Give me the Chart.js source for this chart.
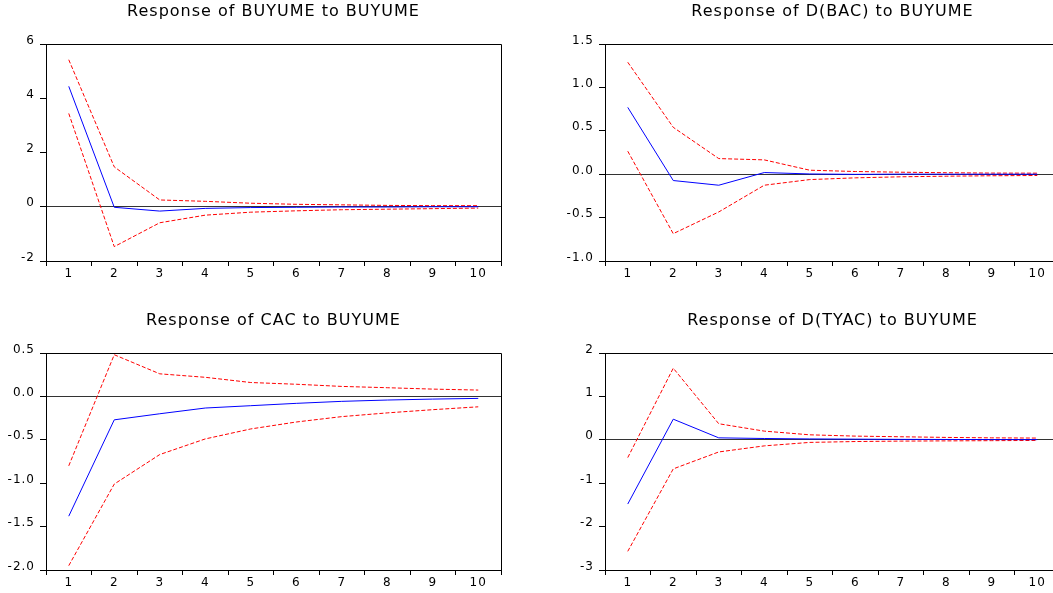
<!DOCTYPE html>
<html><head><meta charset="utf-8">
<script src="https://cdn.jsdelivr.net/npm/chart.js@4.4.0/dist/chart.umd.min.js"></script>
<style>
html,body{margin:0;padding:0;background:#fff;overflow:hidden;width:1053px;height:593px;position:relative;}
.panel{position:absolute;width:520px;height:295px;}
canvas{display:block;}
</style></head><body>
<div class="panel" style="left:0px;top:0px"><canvas id="c1" width="520" height="295"></canvas></div>
<div class="panel" style="left:559px;top:0px"><canvas id="c2" width="520" height="295"></canvas></div>
<div class="panel" style="left:0px;top:309px"><canvas id="c3" width="520" height="295"></canvas></div>
<div class="panel" style="left:559px;top:309px"><canvas id="c4" width="520" height="295"></canvas></div>
<script>
// ---- data ----
const periods = ['1','2','3','4','5','6','7','8','9','10'];

const title1 = 'Response of BUYUME to BUYUME';
const resp1  = [4.44, -0.02, -0.16, -0.06, -0.03, -0.02, -0.01, -0.01, 0.0, 0.0];
const upper1 = [5.42, 1.47, 0.25, 0.20, 0.13, 0.09, 0.07, 0.05, 0.04, 0.04];
const lower1 = [3.44, -1.47, -0.59, -0.31, -0.20, -0.15, -0.11, -0.09, -0.07, -0.05];
const yTicks1 = [-2, 0, 2, 4, 6];
const yLabels1 = ['-2', '0', '2', '4', '6'];

const title2 = 'Response of D(BAC) to BUYUME';
const resp2  = [0.77, -0.073, -0.127, 0.019, 0.003, -0.002, 0.001, 0.0, 0.0, 0.0];
const upper2 = [1.29, 0.54, 0.18, 0.165, 0.046, 0.031, 0.023, 0.017, 0.013, 0.012];
const lower2 = [0.265, -0.685, -0.435, -0.127, -0.062, -0.042, -0.030, -0.023, -0.018, -0.015];
const yTicks2 = [-1.0, -0.5, 0.0, 0.5, 1.0, 1.5];
const yLabels2 = ['-1.0', '-0.5', '0.0', '0.5', '1.0', '1.5'];

const title3 = 'Response of CAC to BUYUME';
const resp3  = [-1.38, -0.27, -0.20, -0.134, -0.107, -0.08, -0.057, -0.042, -0.031, -0.023];
const upper3 = [-0.80, 0.48, 0.26, 0.22, 0.16, 0.14, 0.115, 0.10, 0.084, 0.073];
const lower3 = [-1.95, -1.01, -0.67, -0.49, -0.375, -0.295, -0.233, -0.19, -0.153, -0.12];
const yTicks3 = [-2.0, -1.5, -1.0, -0.5, 0.0, 0.5];
const yLabels3 = ['-2.0', '-1.5', '-1.0', '-0.5', '0.0', '0.5'];

const title4 = 'Response of D(TYAC) to BUYUME';
const resp4  = [-1.48, 0.475, 0.045, 0.03, 0.02, 0.015, 0.01, 0.008, 0.005, 0.004];
const upper4 = [-0.41, 1.65, 0.37, 0.20, 0.115, 0.085, 0.07, 0.055, 0.045, 0.04];
const lower4 = [-2.57, -0.67, -0.28, -0.14, -0.06, -0.04, -0.03, -0.025, -0.02, -0.015];
const yTicks4 = [-3, -2, -1, 0, 1, 2];
const yLabels4 = ['-3', '-2', '-1', '0', '1', '2'];

// ---- plugins ----
const spacingPlugin = {
  id: 'spacing',
  beforeDraw(chart) { chart.ctx.letterSpacing = '1px'; }
};
const framePlugin = {
  id: 'frame',
  afterDraw(chart) {
    const a = chart.chartArea, ctx = chart.ctx;
    const al = v => Math.round(v - 0.5) + 0.5;
    ctx.save();
    ctx.strokeStyle = '#000';
    ctx.lineWidth = 1;
    ctx.beginPath();
    ctx.moveTo(al(a.left), al(a.top));
    ctx.lineTo(al(a.right), al(a.top));
    ctx.lineTo(al(a.right), al(a.bottom));
    ctx.stroke();
    ctx.restore();
  }
};

const FONT = 'DejaVu Sans';

function makeChart(id, title, resp, upper, lower, yTicks, yLabels) {
  return new Chart(document.getElementById(id), {
    type: 'line',
    data: {
      labels: periods,
      datasets: [
        {data: resp, borderColor: '#0000ff', borderWidth: 1, pointRadius: 0, tension: 0, fill: false},
        {data: upper, borderColor: '#ff0000', borderWidth: 1, borderDash: [4, 2], pointRadius: 0, tension: 0, fill: false},
        {data: lower, borderColor: '#ff0000', borderWidth: 1, borderDash: [4, 2], pointRadius: 0, tension: 0, fill: false}
      ]
    },
    options: {
      responsive: false,
      animation: false,
      devicePixelRatio: 1,
      events: [],
      layout: {padding: {left: 0, right: 19, top: 0, bottom: 0}},
      plugins: {
        legend: {display: false},
        tooltip: {enabled: false},
        title: {
          display: true, text: title, fullSize: false, color: '#000',
          font: {family: FONT, size: 16, weight: 'normal', lineHeight: 1.2},
          padding: {top: 2.5, bottom: 22.3}
        }
      },
      scales: {
        x: {
          type: 'category', offset: true,
          grid: {offset: true, drawOnChartArea: false, drawTicks: true, tickLength: 5, tickColor: '#000', color: '#000'},
          border: {display: true, color: '#000'},
          ticks: {color: '#000', font: {family: FONT, size: 12}, padding: 1, maxRotation: 0, autoSkip: false},
          afterFit(s) { s.height = 34; }
        },
        y: {
          min: yTicks[0], max: yTicks[yTicks.length - 1],
          afterBuildTicks(a) { a.ticks = yTicks.map(v => ({value: v})); },
          grid: {
            color: c => (c.tick && Math.abs(c.tick.value) < 1e-9) ? '#333' : 'rgba(0,0,0,0)',
            tickColor: '#000', tickLength: 6, drawOnChartArea: true
          },
          border: {display: true, color: '#000'},
          ticks: {
            callback: (v, i) => yLabels[i],
            color: '#000', font: {family: FONT, size: 12}, padding: 5, labelOffset: -3.5
          },
          afterFit(s) { s.width = 46; }
        }
      }
    },
    plugins: [spacingPlugin, framePlugin]
  });
}

makeChart('c1', title1, resp1, upper1, lower1, yTicks1, yLabels1);
makeChart('c2', title2, resp2, upper2, lower2, yTicks2, yLabels2);
makeChart('c3', title3, resp3, upper3, lower3, yTicks3, yLabels3);
makeChart('c4', title4, resp4, upper4, lower4, yTicks4, yLabels4);
</script>
</body></html>
